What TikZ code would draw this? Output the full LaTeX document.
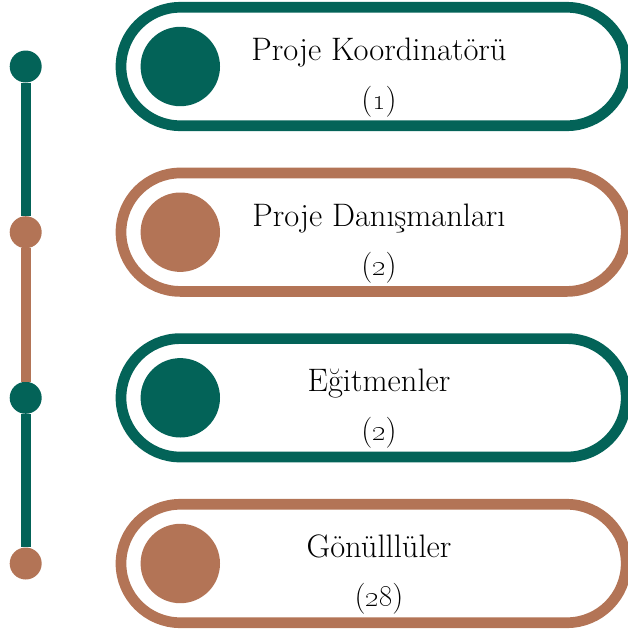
\documentclass[tikz,border=0pt]{standalone}
\definecolor{tealg}{RGB}{3,99,88}
\definecolor{clay}{RGB}{179,116,86}
\tikzset{
  dot/.style={circle, fill=#1, draw=none, minimum size=32pt, inner sep=0pt},
  pill/.style={draw=#1, line width=10.7pt, rectangle, rounded corners=59.2pt,
               minimum width=505.2pt, minimum height=118.4pt, inner sep=0pt, fill=white},
  badge/.style={circle, fill=#1, draw=none, minimum size=79.4pt, inner sep=0pt},
  title/.style={anchor=base, font=\fontsize{32.5}{38}\selectfont, inner sep=0pt},
  count/.style={anchor=base, font=\fontsize{31}{36}\selectfont, inner sep=0pt},
  tline/.style={draw=#1, line width=10pt}
}
\begin{document}
\begin{tikzpicture}[x=1pt, y=-1pt]
\useasboundingbox (0,0) rectangle (628,630);
% timeline dots
\node[dot=tealg] (d1) at (25.7,66.5) {};
\node[dot=clay]  (d2) at (25.7,232.2) {};
\node[dot=tealg] (d3) at (25.7,397.8) {};
\node[dot=clay]  (d4) at (25.7,563.5) {};
\draw[tline=tealg] (d1) -- (d2);
\draw[tline=clay]  (d2) -- (d3);
\draw[tline=tealg] (d3) -- (d4);
% pills
\node[pill=tealg] (p1) at (373.6,66.5) {};
\node[pill=clay]  (p2) at (373.6,232.2) {};
\node[pill=tealg] (p3) at (373.6,397.8) {};
\node[pill=clay]  (p4) at (373.6,563.5) {};
% badges
\node[badge=tealg] (b1) at (180.3,66.5) {};
\node[badge=clay]  (b2) at (180.3,232.2) {};
\node[badge=tealg] (b3) at (180.3,397.8) {};
\node[badge=clay]  (b4) at (180.3,563.5) {};
% texts
\node[title] (t1) at (379,60.5) {Proje Koordinatörü};
\node[count] (n1) at (379,109.5) {(\oldstylenums{1})};
\node[title] (t2) at (379,226.2) {Proje Danışmanları};
\node[count] (n2) at (379,275.2) {(\oldstylenums{2})};
\node[title] (t3) at (379,391.8) {Eğitmenler};
\node[count] (n3) at (379,440.8) {(\oldstylenums{2})};
\node[title] (t4) at (379,557.5) {Gönülllüler};
\node[count] (n4) at (379,606.5) {(\oldstylenums{28})};
\end{tikzpicture}
\end{document}
